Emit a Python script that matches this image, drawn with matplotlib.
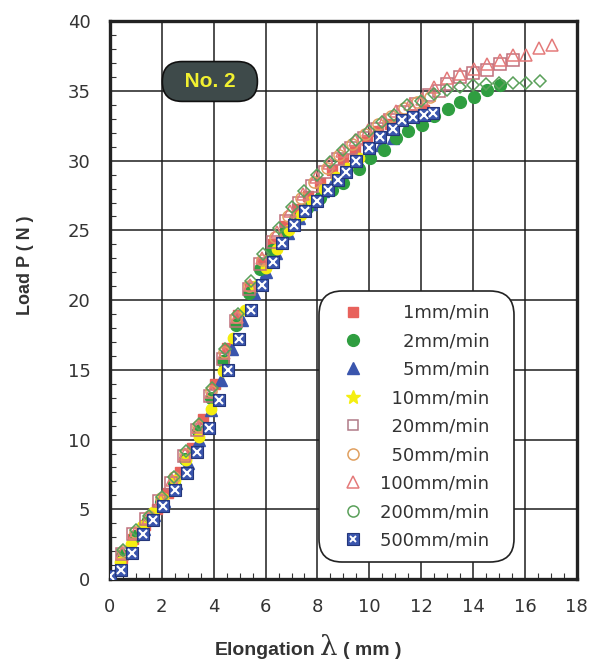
import numpy as np
import matplotlib.pyplot as plt
from matplotlib.lines import Line2D
from matplotlib.ticker import MultipleLocator

plt.rcParams['font.family'] = ['DejaVu Sans']

# values: elongation (mm) and load (N) per speed
x_1 = [0, 0.45, 0.9, 1.35, 1.8, 2.25, 2.7, 3.15, 3.6, 4.05, 4.5, 4.95, 5.4, 5.85,
       6.3, 6.75, 7.2, 7.65, 8.1, 8.55, 9.0, 9.45, 9.9, 10.35, 10.8, 11.25, 11.7, 12.1]
p_1 = [0, 1.5, 2.9, 3.9, 5.0, 6.2, 7.7, 9.4, 11.5, 14.0, 16.6, 18.9, 20.9, 22.6,
       24.0, 25.3, 26.5, 27.5, 28.4, 29.3, 30.1, 30.8, 31.5, 32.1, 32.6, 33.0, 33.3, 33.6]

x_2 = [0, 0.45, 0.95, 1.45, 1.95, 2.45, 2.9, 3.4, 3.9, 4.35, 4.85, 5.35, 5.8, 6.25,
       6.7, 7.15, 7.6, 8.1, 8.55, 9.0, 9.59, 10.04, 10.55, 11.04, 11.5, 12.03, 12.5,
       13.02, 13.5, 14.03, 14.54, 15.03]
p_2 = [0, 1.7, 3.1, 4.2, 5.5, 6.9, 8.6, 10.6, 13.0, 15.6, 18.2, 20.5, 22.2, 23.6,
       24.8, 25.8, 26.6, 27.3, 27.9, 28.4, 29.4, 30.2, 30.8, 31.6, 32.1, 32.55, 33.2,
       33.7, 34.2, 34.6, 35.05, 35.4]

x_5 = [0, 0.4, 0.85, 1.3, 1.7, 2.1, 2.55, 3.0, 3.45, 3.9, 4.3, 4.7, 5.1, 5.55,
       6.0, 6.4, 6.85, 7.3, 7.75, 8.2, 8.65, 9.1, 9.55, 10.0, 10.45, 10.9]
p_5 = [0, 1.0, 2.3, 3.6, 4.6, 5.6, 6.9, 8.3, 10.0, 12.1, 14.3, 16.5, 18.6, 20.5,
       22.0, 23.4, 24.8, 25.9, 26.9, 27.8, 28.6, 29.3, 30.0, 30.5, 31.1, 31.6]

x_10 = [0, 0.4, 0.8, 1.25, 1.65, 2.05, 2.5, 2.95, 3.45, 3.9, 4.35, 4.75, 5.2, 5.6,
        6.0, 6.45, 6.9, 7.35, 7.8, 8.25, 8.7, 9.15, 9.6]
p_10 = [0, 1.2, 2.5, 3.8, 4.8, 5.8, 7.1, 8.5, 10.2, 12.2, 14.9, 17.3, 19.3, 21.0,
        22.3, 23.7, 25.0, 26.1, 27.1, 28.0, 28.8, 29.5, 30.2]

x_20 = [0, 0.45, 0.9, 1.4, 1.9, 2.35, 2.85, 3.35, 3.85, 4.35, 4.85, 5.35, 5.8, 6.3,
        6.8, 7.3, 7.8, 8.3, 8.8, 9.3, 9.8, 10.3, 10.8, 11.3, 11.8, 12.3, 12.7, 13.0,
        13.5, 14.0, 14.54, 15.03, 15.55]
p_20 = [0, 1.8, 3.2, 4.3, 5.6, 6.9, 8.8, 10.7, 13.1, 15.8, 18.5, 20.8, 22.6, 24.2,
        25.7, 27.0, 28.2, 29.2, 30.1, 30.9, 31.6, 32.3, 32.9, 33.5, 34.1, 34.7, 35.0,
        35.5, 36.0, 36.3, 36.5, 36.9, 37.2]

x_50 = [0, 0.5, 0.95, 1.5, 1.95, 2.45, 2.9, 3.4, 3.9, 4.4, 4.85, 5.35, 5.85, 6.35,
        6.85, 7.35, 7.85, 8.35, 8.85, 9.35, 9.85, 10.35, 10.85, 11.35, 11.85, 12.35]
p_50 = [0, 2.0, 3.4, 4.5, 5.8, 7.3, 9.0, 11.0, 13.5, 16.3, 18.8, 21.0, 22.9, 24.5,
        26.0, 27.3, 28.5, 29.5, 30.4, 31.2, 31.9, 32.6, 33.2, 33.8, 34.2, 34.6]

x_100 = [0, 0.45, 0.95, 1.45, 1.95, 2.4, 2.9, 3.4, 3.9, 4.4, 4.9, 5.4, 5.85, 6.45,
         6.95, 7.45, 7.95, 8.45, 8.95, 9.45, 9.95, 10.58, 11.04, 11.56, 12.03, 12.48,
         13.0, 13.5, 14.03, 14.52, 15.03, 15.54, 16.05, 16.54, 17.05]
p_100 = [0, 1.9, 3.3, 4.4, 5.7, 7.1, 9.0, 10.9, 13.4, 16.2, 18.8, 21.1, 23.0, 24.9,
         26.4, 27.6, 28.8, 29.8, 30.7, 31.5, 32.2, 32.9, 33.55, 34.1, 34.4, 35.3,
         35.9, 36.2, 36.6, 36.95, 37.2, 37.55, 37.6, 38.1, 38.3]

x_200 = [0, 0.5, 1.0, 1.5, 2.0, 2.45, 2.95, 3.45, 3.95, 4.45, 4.95, 5.45, 5.9, 6.5,
         7.0, 7.5, 8.0, 8.5, 9.0, 9.5, 10.0, 10.5, 10.95, 11.45, 12.0, 12.5, 13.0,
         13.5, 14.0, 14.5, 15.0, 15.55, 16.05, 16.6]
p_200 = [0, 2.1, 3.5, 4.5, 5.9, 7.3, 9.2, 11.1, 13.7, 16.5, 19.0, 21.4, 23.3, 25.2,
         26.7, 27.8, 29.0, 29.9, 30.8, 31.5, 32.1, 32.8, 33.3, 34.0, 34.3, 34.8, 35.1,
         35.3, 35.4, 35.5, 35.55, 35.6, 35.6, 35.75]

x_500 = [0, 0.41, 0.83, 1.26, 1.65, 2.06, 2.51, 2.96, 3.37, 3.8, 4.19, 4.55, 4.98,
         5.45, 5.86, 6.28, 6.63, 7.1, 7.53, 7.98, 8.4, 8.8, 9.1, 9.5, 9.97, 10.4,
         10.9, 11.26, 11.7, 12.1, 12.47]
p_500 = [0.2, 0.65, 1.85, 3.2, 4.24, 5.2, 6.35, 7.6, 9.1, 10.8, 12.85, 15.0, 17.2,
         19.3, 21.1, 22.7, 24.1, 25.4, 26.4, 27.1, 27.9, 28.6, 29.2, 30.0, 30.9, 31.7,
         32.3, 32.9, 33.1, 33.3, 33.4]

labels = ['1mm/min', '2mm/min', '5mm/min', '10mm/min', '20mm/min',
          '50mm/min', '100mm/min', '200mm/min', '500mm/min']

red = '#e8625c'
green = '#2f9e40'
blue = '#3a55ad'
yellow = '#f4ee10'

fig = plt.figure(figsize=(6, 6.64), dpi=100)
ax = fig.add_axes([0.1833, 0.128, 0.778, 0.840])

ax.plot(x_1, p_1, 's', ms=7.5, mfc=red, mec=red, zorder=3)
ax.plot(x_5, p_5, '^', ms=8, mfc=blue, mec=blue, zorder=3)
ax.plot(x_2, p_2, 'o', ms=8.5, mfc=green, mec=green, zorder=3)
ax.plot(x_10, p_10, 'o', ms=7.5, mfc=yellow, mec=yellow, zorder=3)
ax.plot(x_20, p_20, 's', ms=8, mfc='none', mec='#c0707c', mew=1.1, zorder=4)
ax.plot(x_50, p_50, 'o', ms=8, mfc='none', mec='#e0a060', mew=1.1, zorder=4)
ax.plot(x_100, p_100, '^', ms=9, mfc='none', mec='#e47a7a', mew=1.1, zorder=4)
ax.plot(x_200, p_200, 'D', ms=6.5, mfc='none', mec='#5aa05a', mew=1.1, zorder=4)
ax.plot(x_500, p_500, 's', ms=8.5, mfc=blue, mec='#24367a', mew=0.8, zorder=5)
ax.plot(x_500, p_500, 'x', ms=5.5, mec='white', mew=1.5, zorder=6)

ax.set_xlim(0, 18)
ax.set_ylim(0, 40)
ax.set_xticks(range(0, 19, 2))
ax.set_yticks(range(0, 41, 5))
ax.xaxis.set_minor_locator(MultipleLocator(0.5))
ax.yaxis.set_minor_locator(MultipleLocator(1))
ax.grid(True, color='#1e1e1e', lw=1.1, zorder=1)
ax.set_axisbelow(True)
ax.tick_params(which='major', length=0, pad=14, labelsize=13, labelcolor='#333333')
ax.tick_params(which='minor', direction='in', length=4, width=0.8, color='#333333')
for s in ax.spines.values():
    s.set_linewidth(2.4)
    s.set_color('#222222')

ax.text(0.214, 0.892, '\u2007No. 2\u2007', transform=ax.transAxes, ha='center', va='center',
        fontsize=15, fontweight='bold', color='#f2f030', family='Liberation Sans',
        bbox=dict(boxstyle='round,pad=0.5,rounding_size=0.95', fc='#3e4a4a', ec='#111111', lw=1.2),
        zorder=7)

# legend, labels padded with figure spaces so they line up on the right
fs = '\u2007'
handles = [
    Line2D([], [], ls='none', marker='s', ms=7.5, mfc=red, mec=red),
    Line2D([], [], ls='none', marker='o', ms=8.5, mfc=green, mec=green),
    Line2D([], [], ls='none', marker='^', ms=8, mfc=blue, mec=blue),
    Line2D([], [], ls='none', marker='*', ms=10, mfc=yellow, mec=yellow),
    Line2D([], [], ls='none', marker='s', ms=7.5, mfc='none', mec='#b07a88', mew=1.1),
    Line2D([], [], ls='none', marker='o', ms=8, mfc='none', mec='#e0a060', mew=1.1),
    Line2D([], [], ls='none', marker='^', ms=8, mfc='none', mec='#e47a7a', mew=1.1),
    Line2D([], [], ls='none', marker='o', ms=8, mfc='none', mec='#5aa05a', mew=1.1),
    (Line2D([], [], ls='none', marker='s', ms=8, mfc=blue, mec='#24367a', mew=0.8),
     Line2D([], [], ls='none', marker='x', ms=5, mec='white', mew=1.4)),
]
padded = [fs * (9 - len(t)) + t + fs for t in labels]
leg = ax.legend(handles, padded, loc='lower right', bbox_to_anchor=(0.865, 0.03),
                fontsize=13, labelspacing=0.58, handletextpad=0.3, borderpad=0.7,
                handlelength=2.4, framealpha=1, fancybox=True, borderaxespad=0)
leg.get_frame().set_edgecolor('#222222')
leg.get_frame().set_linewidth(1.2)
leg.get_frame().set_boxstyle('round,pad=0,rounding_size=1.3')
for t in leg.get_texts():
    t.set_color('#333333')
leg.set_zorder(8)

fig.text(25 / 600, 1 - 265 / 664, 'Load P ( N )', rotation=90, ha='center', va='center',
         fontsize=13, fontweight='bold', color='#333333', family='Liberation Sans')
fig.text(316 / 600, 1 - 655 / 664, 'Elongation', ha='right', va='baseline',
         fontsize=14, fontweight='bold', color='#333333', family='Liberation Sans')
fig.text(329 / 600, 1 - 655 / 664, '\u03bb', ha='center', va='baseline',
         fontsize=20, color='#333333', family='DejaVu Serif')
fig.text(343 / 600, 1 - 655 / 664, '( mm )', ha='left', va='baseline',
         fontsize=14, fontweight='bold', color='#333333', family='Liberation Sans')

fig.savefig('out.png', dpi=100)
